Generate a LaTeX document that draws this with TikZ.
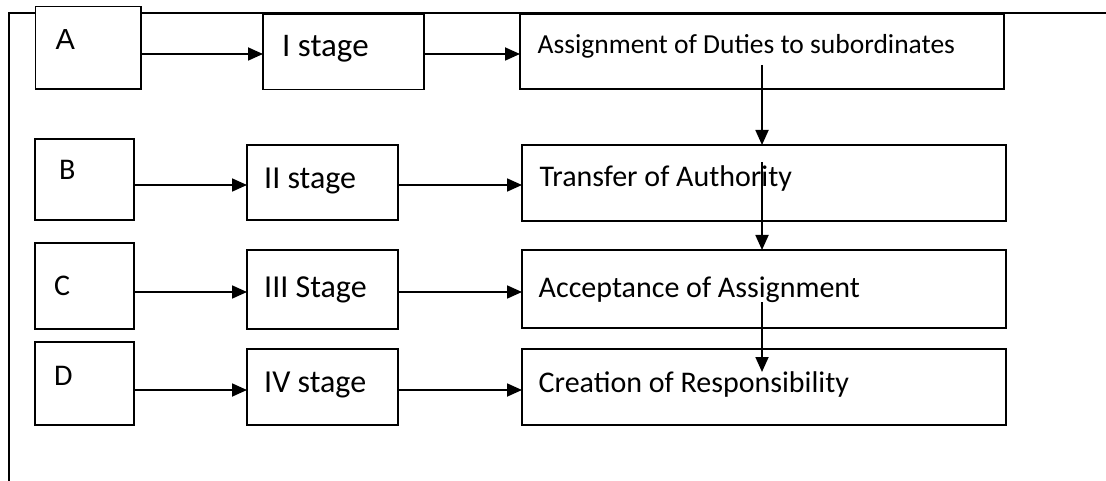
\documentclass[tikz,border=0pt]{standalone}
\usepackage{fontspec}
\setmainfont{Carlito}
\newfontfamily\arialfont{Liberation Sans}
\usetikzlibrary{arrows.meta}
\tikzset{
  box/.style={draw=black, fill=white, line width=1.8pt, anchor=north west, inner sep=0pt, outer sep=0pt},
  lbl/.style={anchor=base west, inner sep=0pt, font=\fontsize{27.5}{30}\selectfont},
  stg/.style={lbl, font=\fontsize{32}{34}\selectfont},
  big/.style={lbl, font=\fontsize{30}{32}\selectfont},
  arr/.style={line width=1.8pt, -{Triangle[length=15pt,width=13pt]}},
  frame/.style={line width=1.8pt}
}
\begin{document}
\begin{tikzpicture}[x=1pt,y=-1pt]
\useasboundingbox (0,0) rectangle (1106,481);
% outer frame
\coordinate (fb) at (9,481);
\coordinate (fc) at (9,13);
\coordinate (fr) at (1106,13);
\draw[frame] (fb) -- (fc) -- (fr);
% boxes
\node[box, minimum width=105.5pt, minimum height=82.5pt] (A) at (35.5,6.5) {};
\node[box, minimum width=161pt, minimum height=75.5pt] (S1) at (263,14) {};
\node[box, minimum width=484pt, minimum height=75pt] (R1) at (520,14) {};
\node[box, minimum width=99pt, minimum height=81pt] (B) at (35,139) {};
\node[box, minimum width=151pt, minimum height=75pt] (S2) at (247,145) {};
\node[box, minimum width=484pt, minimum height=76pt] (R2) at (522,145) {};
\node[box, minimum width=99pt, minimum height=86pt] (C) at (35,243) {};
\node[box, minimum width=151pt, minimum height=79pt] (S3) at (247,250) {};
\node[box, minimum width=484pt, minimum height=78pt] (R3) at (522,250) {};
\node[box, minimum width=99pt, minimum height=83pt] (D) at (35,342) {};
\node[box, minimum width=151pt, minimum height=76pt] (S4) at (247,349) {};
\node[box, minimum width=484pt, minimum height=76pt] (R4) at (522,349) {};
% labels
\node[lbl, font=\arialfont\fontsize{29}{31}\selectfont] (tA) at (55.5,50) {A};
\node[stg, font=\fontsize{33}{35}\selectfont] (tS1) at (282,57) {I stage};
\node[lbl] (tR1) at (537.5,54) {Assignment of Duties to subordinates};
\node[big] (tB) at (59,180) {B};
\node[stg] (tS2) at (264,189) {II stage};
\node[big] (tR2) at (539.5,187) {Transfer of Authority};
\node[big] (tC) at (54,295) {C};
\node[stg] (tS3) at (264,297) {III Stage};
\node[big] (tR3) at (538.5,297) {Acceptance of Assignment};
\node[big] (tD) at (54,385) {D};
\node[stg] (tS4) at (264,392) {IV stage};
\node[big] (tR4) at (538.5,392) {Creation of Responsibility};
% horizontal connectors
\draw[arr] (A.east |- 0,54) -- (S1.west |- 0,54);
\draw[arr] (S1.east |- 0,54) -- (R1.west |- 0,54);
\draw[arr] (B.east |- 0,185) -- (S2.west |- 0,185);
\draw[arr] (S2.east |- 0,185) -- (R2.west |- 0,185);
\draw[arr] (C.east |- 0,292) -- (S3.west |- 0,292);
\draw[arr] (S3.east |- 0,292) -- (R3.west |- 0,292);
\draw[arr] (D.east |- 0,390) -- (S4.west |- 0,390);
\draw[arr] (S4.east |- 0,390) -- (R4.west |- 0,390);
% vertical connectors
\coordinate (v1) at (762,65);
\coordinate (v2) at (762,162);
\coordinate (v3) at (762,302);
\coordinate (v3e) at (762,372);
\draw[arr] (v1) -- (R2.north -| v1);
\draw[arr] (v2) -- (R3.north -| v2);
\draw[arr] (v3) -- (v3e);
\end{tikzpicture}
\end{document}
